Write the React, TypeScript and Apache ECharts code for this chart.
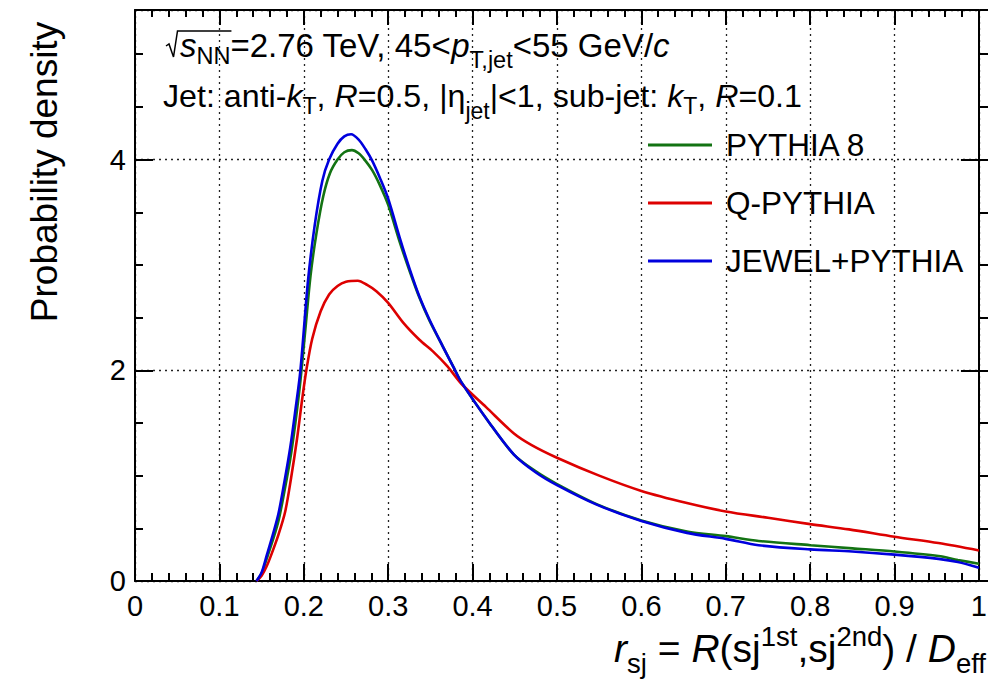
import React, { useEffect, useRef } from "react";
import * as echarts from "echarts";

const FONT = '"Liberation Sans", Arial, Helvetica, sans-serif';

const seriesNames = ["PYTHIA 8", "Q-PYTHIA", "JEWEL+PYTHIA"];
const seriesColors = ["#137313", "#dd0000", "#0000dd"];

const pythia8X = [0.144, 0.15, 0.156, 0.163, 0.17, 0.177, 0.184, 0.19, 0.196, 0.202, 0.208, 0.215, 0.223, 0.231, 0.24, 0.248, 0.257, 0.265, 0.272, 0.281, 0.29, 0.3, 0.314, 0.3255, 0.337, 0.349, 0.3645, 0.378, 0.3865, 0.42, 0.449, 0.475, 0.5, 0.547, 0.6, 0.654, 0.7, 0.739, 0.8, 0.85, 0.9, 0.952, 0.975, 1.0];
const pythia8Y = [0, 0.07, 0.21, 0.38, 0.57, 0.85, 1.16, 1.5, 1.9, 2.4, 2.9, 3.3, 3.65, 3.87, 4.0, 4.07, 4.09, 4.06, 4.0, 3.9, 3.76, 3.57, 3.21, 2.94, 2.69, 2.47, 2.23, 2.02, 1.89, 1.5, 1.2, 1.04, 0.92, 0.73, 0.575, 0.47, 0.426, 0.38, 0.34, 0.31, 0.28, 0.237, 0.2, 0.164];

const qPythiaX = [0.144, 0.15, 0.156, 0.162, 0.17, 0.178, 0.185, 0.192, 0.198, 0.203, 0.21, 0.22, 0.23, 0.24, 0.25, 0.264, 0.275, 0.286, 0.3, 0.318, 0.337, 0.353, 0.37, 0.387, 0.416, 0.449, 0.47, 0.5, 0.55, 0.6, 0.654, 0.7, 0.75, 0.8, 0.846, 0.9, 0.952, 1.0];
const qPythiaY = [0, 0.05, 0.14, 0.26, 0.44, 0.66, 0.98, 1.35, 1.72, 2.0, 2.3, 2.56, 2.72, 2.8, 2.84, 2.85, 2.81, 2.75, 2.64, 2.45, 2.29, 2.18, 2.04, 1.87, 1.65, 1.4, 1.29, 1.17, 1.0, 0.855, 0.74, 0.66, 0.6, 0.54, 0.49, 0.42, 0.36, 0.29];

const jewelX = [0.144, 0.15, 0.156, 0.163, 0.17, 0.177, 0.184, 0.19, 0.196, 0.205, 0.213, 0.222, 0.23, 0.24, 0.248, 0.256, 0.265, 0.273, 0.281, 0.29, 0.3, 0.314, 0.3255, 0.337, 0.349, 0.3645, 0.378, 0.3865, 0.42, 0.449, 0.475, 0.5, 0.547, 0.6, 0.654, 0.7, 0.739, 0.8, 0.85, 0.9, 0.952, 0.975, 1.0];
const jewelY = [0, 0.08, 0.24, 0.43, 0.64, 0.94, 1.27, 1.62, 2.0, 2.85, 3.38, 3.8, 4.0, 4.15, 4.22, 4.24, 4.19, 4.1, 3.99, 3.83, 3.63, 3.25, 2.96, 2.7, 2.48, 2.23, 2.02, 1.89, 1.5, 1.2, 1.03, 0.91, 0.725, 0.57, 0.457, 0.4, 0.34, 0.3, 0.28, 0.25, 0.21, 0.18, 0.126];

const xTickLabels = ["0", "0.1", "0.2", "0.3", "0.4", "0.5", "0.6", "0.7", "0.8", "0.9", "1"];
const yTickLabels = ["0", "2", "4"];
const X_MIN = 0;
const X_MAX = 1;
const Y_MIN = 0;
const Y_MAX = 5.42;

type Frag = { t: string; size: number; dy?: number; italic?: boolean };

function buildText(frags: Frag[], x: number, baseline: number, align: "left" | "right") {
  const canvas = document.createElement("canvas");
  const ctx = canvas.getContext("2d") as CanvasRenderingContext2D;
  const m = (f: Frag, t: string) => {
    ctx.font = `${f.italic ? "italic " : ""}${f.size}px ${FONT}`;
    return ctx.measureText(t).width;
  };
  const widths = frags.map((f) => m(f, f.t));
  const total = widths.reduce((a, b) => a + b, 0);
  let cx = align === "right" ? x - total : x;
  const els: any[] = [];
  const pos: number[] = [];
  frags.forEach((f, i) => {
    const trimmed = f.t.trim();
    const lead = f.t.length - f.t.trimStart().length;
    const leadW = lead > 0 ? m(f, f.t.slice(0, lead)) : 0;
    pos.push(cx);
    if (trimmed.length) {
      els.push({
        type: "text",
        x: cx + leadW,
        y: baseline + (f.dy || 0) - 0.35 * f.size,
        silent: true,
        style: {
          text: trimmed,
          fontSize: f.size,
          fontFamily: FONT,
          fontStyle: f.italic ? "italic" : "normal",
          fill: "#000",
          align: "left",
          verticalAlign: "middle",
        },
      });
    }
    cx += widths[i];
  });
  return { els, pos, widths, end: cx };
}

export default function App() {
  const ref = useRef<HTMLDivElement>(null);
  useEffect(() => {
    if (!ref.current) return;
    const chart = echarts.init(ref.current, undefined, { renderer: "svg" });

    const gridRect = { left: 135, top: 10, width: 853, height: 571 };
    const A1 = 33;
    const A1s = 23.5;
    const A2 = 32.2;
    const A2s = 23;

    const l1 = buildText(
      [
        { t: "s", size: A1, italic: true },
        { t: "NN", size: A1s, dy: 7 },
        { t: "=2.76 TeV, 45<", size: A1 },
        { t: "p", size: A1, italic: true },
        { t: "T,jet", size: A1s, dy: 11 },
        { t: "<55 GeV/", size: A1 },
        { t: "c", size: A1, italic: true },
      ],
      180,
      57,
      "left"
    );
    const nnEnd = l1.pos[1] + l1.widths[1];
    const radical = {
      type: "polyline",
      silent: true,
      shape: {
        points: [
          [166, 46],
          [169, 44],
          [173.5, 57],
          [177.5, 31],
          [nnEnd + 1, 31],
        ],
      },
      style: { stroke: "#000", lineWidth: 1.5, fill: "none" },
    };
    const l2 = buildText(
      [
        { t: "Jet: anti-", size: A2 },
        { t: "k", size: A2, italic: true },
        { t: "T", size: A2s, dy: 7 },
        { t: ", ", size: A2 },
        { t: "R", size: A2, italic: true },
        { t: "=0.5, |η", size: A2 },
        { t: "jet", size: A2s, dy: 12 },
        { t: "|<1, sub-jet: ", size: A2 },
        { t: "k", size: A2, italic: true },
        { t: "T", size: A2s, dy: 7 },
        { t: ", ", size: A2 },
        { t: "R", size: A2, italic: true },
        { t: "=0.1", size: A2 },
      ],
      163,
      107,
      "left"
    );
    const T = 39;
    const Ts = 27.5;
    const xt = buildText(
      [
        { t: "r", size: T, italic: true },
        { t: "sj", size: Ts, dy: 11 },
        { t: " = ", size: T },
        { t: "R", size: T, italic: true },
        { t: "(sj", size: T },
        { t: "1st", size: Ts, dy: -16 },
        { t: ",sj", size: T },
        { t: "2nd", size: Ts, dy: -16 },
        { t: ") / ", size: T },
        { t: "D", size: T, italic: true },
        { t: "eff", size: Ts, dy: 11 },
      ],
      986,
      662,
      "right"
    );

    const yTitle = {
      type: "text",
      x: 44,
      y: 172,
      rotation: Math.PI / 2,
      silent: true,
      style: {
        text: "Probability density",
        fontSize: 37,
        fontFamily: FONT,
        fill: "#000",
        align: "center",
        verticalAlign: "middle",
      },
    };

    const tickStyle = { color: "#000", width: 2 };
    const dotted = { color: "#222", width: 1.3, type: [2, 4] as any };

    const mkSeries = (name: string, xs: number[], ys: number[], color: string) => ({
      name,
      type: "line",
      xAxisIndex: 0,
      yAxisIndex: 0,
      data: xs.map((x, i) => [x, ys[i]]),
      symbol: "none",
      showSymbol: false,
      smooth: 0.3,
      color,
      lineStyle: { color, width: 2.6 },
      z: 5,
    });

    const option: any = {
      animation: false,
      backgroundColor: "#fff",
      grid: [
        { ...gridRect, show: false },
        { ...gridRect, show: false },
      ],
      legend: {
        data: seriesNames,
        orient: "vertical",
        left: 648,
        top: 129,
        padding: 0,
        icon: "rect",
        itemWidth: 64,
        itemHeight: 3,
        itemGap: 26,
        textStyle: {
          fontSize: 31.5,
          fontFamily: FONT,
          color: "#000",
          lineHeight: 30,
          padding: [0, 0, 0, 9],
        },
      },
      xAxis: [
        {
          gridIndex: 0,
          type: "value",
          position: "bottom",
          min: X_MIN,
          max: X_MAX,
          interval: 0.1,
          axisLine: { show: true, onZero: false, lineStyle: tickStyle },
          axisTick: { show: true, inside: true, length: 17, lineStyle: tickStyle },
          minorTick: { show: true, splitNumber: 5, length: 8, lineStyle: tickStyle },
          axisLabel: {
            show: true,
            margin: 10,
            fontSize: 29,
            fontFamily: FONT,
            color: "#000",
            showMinLabel: true,
            showMaxLabel: true,
            formatter: (v: number) => xTickLabels[Math.round(v * 10)] ?? "",
          },
          splitLine: { show: true, lineStyle: dotted },
        },
        {
          gridIndex: 0,
          type: "value",
          position: "top",
          min: X_MIN,
          max: X_MAX,
          interval: 0.1,
          axisLine: { show: true, onZero: false, lineStyle: tickStyle },
          axisTick: { show: true, inside: true, length: 15, lineStyle: tickStyle },
          minorTick: { show: true, splitNumber: 5, length: 7, lineStyle: tickStyle },
          axisLabel: { show: false },
          splitLine: { show: false },
        },
        { gridIndex: 1, type: "value", min: X_MIN, max: X_MAX, show: false },
      ],
      yAxis: [
        {
          gridIndex: 0,
          type: "value",
          position: "left",
          min: Y_MIN,
          max: Y_MAX,
          interval: 2,
          axisLine: { show: true, onZero: false, lineStyle: tickStyle },
          axisTick: { show: true, inside: true, length: 18, lineStyle: tickStyle },
          axisLabel: {
            show: true,
            margin: 9,
            fontSize: 29,
            fontFamily: FONT,
            color: "#000",
            showMinLabel: true,
            showMaxLabel: false,
            formatter: (v: number) => {
              const i = Math.round(v / 2);
              return Math.abs(v - i * 2) < 1e-6 ? yTickLabels[i] ?? "" : "";
            },
          },
          splitLine: { show: true, lineStyle: dotted },
        },
        {
          gridIndex: 0,
          type: "value",
          position: "right",
          min: Y_MIN,
          max: Y_MAX,
          interval: 2,
          axisLine: { show: true, onZero: false, lineStyle: tickStyle },
          axisTick: { show: true, inside: true, length: 18, lineStyle: tickStyle },
          axisLabel: { show: false },
          splitLine: { show: false },
        },
        {
          gridIndex: 1,
          type: "value",
          position: "left",
          min: Y_MIN,
          max: Y_MAX,
          interval: 0.5,
          axisLine: { show: false },
          axisTick: { show: true, inside: true, length: 8, lineStyle: tickStyle },
          axisLabel: { show: false },
          splitLine: { show: false },
        },
        {
          gridIndex: 1,
          type: "value",
          position: "right",
          min: Y_MIN,
          max: Y_MAX,
          interval: 0.5,
          axisLine: { show: false },
          axisTick: { show: true, inside: true, length: 8, lineStyle: tickStyle },
          axisLabel: { show: false },
          splitLine: { show: false },
        },
      ],
      series: [
        mkSeries(seriesNames[0], pythia8X, pythia8Y, seriesColors[0]),
        mkSeries(seriesNames[1], qPythiaX, qPythiaY, seriesColors[1]),
        mkSeries(seriesNames[2], jewelX, jewelY, seriesColors[2]),
      ],
      graphic: [radical, ...l1.els, ...l2.els, ...xt.els, yTitle],
    };
    chart.setOption(option);
    return () => chart.dispose();
  }, []);
  return (
    <div
      ref={ref}
      style={{ position: "fixed", left: 0, top: 0, width: 990, height: 680, background: "#fff" }}
    />
  );
}
